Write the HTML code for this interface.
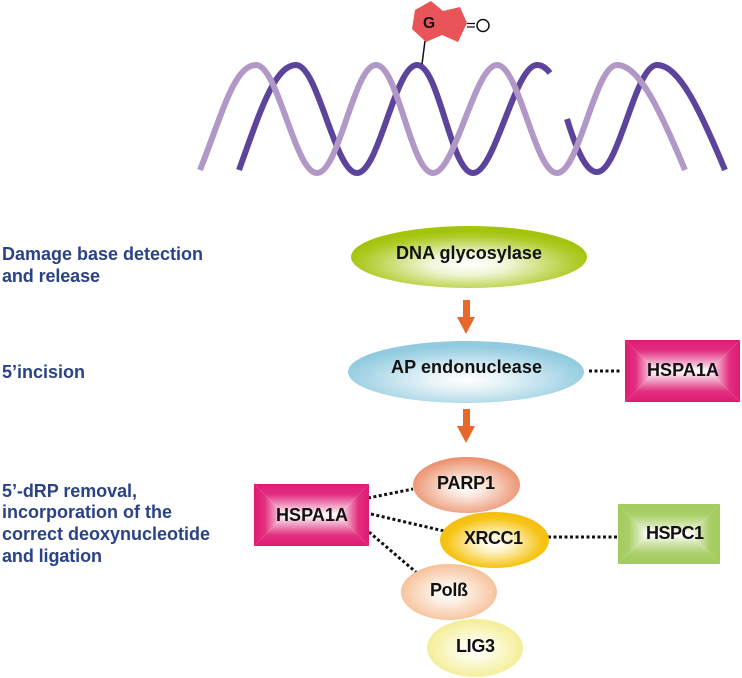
<!DOCTYPE html>
<html><head><meta charset="utf-8"><style>
html,body{margin:0;padding:0;background:#fff}svg{display:block}
text{font-family:"Liberation Sans",sans-serif;font-weight:bold}
.b{fill:#2a4286;font-size:18px}
.k{fill:#111;font-size:18px}
</style></head><body>
<svg width="742" height="678" viewBox="0 0 742 678" xmlns="http://www.w3.org/2000/svg">
<defs>
<radialGradient id="g1" cx=".5" cy=".62" r=".54"><stop offset="0" stop-color="#fff"/><stop offset=".3" stop-color="#f1f6d8"/><stop offset=".85" stop-color="#aecb28"/><stop offset="1" stop-color="#a3c40c"/></radialGradient>
<radialGradient id="g2" cx=".5" cy=".62" r=".54"><stop offset="0" stop-color="#fff"/><stop offset=".3" stop-color="#e6f3f8"/><stop offset=".85" stop-color="#a2d3e4"/><stop offset="1" stop-color="#92cbdf"/></radialGradient>
<radialGradient id="g3" cx=".5" cy=".55" r=".55"><stop offset="0" stop-color="#fff"/><stop offset=".3" stop-color="#fbe6dc"/><stop offset="1" stop-color="#ea8d68"/></radialGradient>
<radialGradient id="g4" cx=".5" cy=".55" r=".55"><stop offset="0" stop-color="#fff"/><stop offset=".3" stop-color="#fdf2c4"/><stop offset=".8" stop-color="#f6c415"/><stop offset="1" stop-color="#f4bd10"/></radialGradient>
<radialGradient id="g5" cx=".5" cy=".52" r=".55"><stop offset="0" stop-color="#fff"/><stop offset=".3" stop-color="#fdf0e6"/><stop offset="1" stop-color="#f6bd92"/></radialGradient>
<radialGradient id="g6" cx=".5" cy=".52" r=".55"><stop offset="0" stop-color="#fff"/><stop offset=".3" stop-color="#fdfce4"/><stop offset="1" stop-color="#f2ec8c"/></radialGradient>

<linearGradient id="p1t" gradientUnits="userSpaceOnUse" x1="0" y1="340" x2="0" y2="371"><stop offset="0" stop-color="#e01a74"/><stop offset=".35" stop-color="#e2307f"/><stop offset=".7" stop-color="#f0a0c4"/><stop offset="1" stop-color="#fff"/></linearGradient>
<linearGradient id="p1b" gradientUnits="userSpaceOnUse" x1="0" y1="402" x2="0" y2="371"><stop offset="0" stop-color="#e01a74"/><stop offset=".35" stop-color="#e2307f"/><stop offset=".7" stop-color="#f0a0c4"/><stop offset="1" stop-color="#fff"/></linearGradient>
<linearGradient id="p1l" gradientUnits="userSpaceOnUse" x1="625" y1="0" x2="656" y2="0"><stop offset="0" stop-color="#e01a74"/><stop offset=".35" stop-color="#e2307f"/><stop offset=".7" stop-color="#f0a0c4"/><stop offset="1" stop-color="#fff"/></linearGradient>
<linearGradient id="p1r" gradientUnits="userSpaceOnUse" x1="740" y1="0" x2="709" y2="0"><stop offset="0" stop-color="#e01a74"/><stop offset=".35" stop-color="#e2307f"/><stop offset=".7" stop-color="#f0a0c4"/><stop offset="1" stop-color="#fff"/></linearGradient>

<linearGradient id="p2t" gradientUnits="userSpaceOnUse" x1="0" y1="484" x2="0" y2="515"><stop offset="0" stop-color="#e01a74"/><stop offset=".35" stop-color="#e2307f"/><stop offset=".7" stop-color="#f0a0c4"/><stop offset="1" stop-color="#fff"/></linearGradient>
<linearGradient id="p2b" gradientUnits="userSpaceOnUse" x1="0" y1="546" x2="0" y2="515"><stop offset="0" stop-color="#e01a74"/><stop offset=".35" stop-color="#e2307f"/><stop offset=".7" stop-color="#f0a0c4"/><stop offset="1" stop-color="#fff"/></linearGradient>
<linearGradient id="p2l" gradientUnits="userSpaceOnUse" x1="254" y1="0" x2="285" y2="0"><stop offset="0" stop-color="#e01a74"/><stop offset=".35" stop-color="#e2307f"/><stop offset=".7" stop-color="#f0a0c4"/><stop offset="1" stop-color="#fff"/></linearGradient>
<linearGradient id="p2r" gradientUnits="userSpaceOnUse" x1="369" y1="0" x2="338" y2="0"><stop offset="0" stop-color="#e01a74"/><stop offset=".35" stop-color="#e2307f"/><stop offset=".7" stop-color="#f0a0c4"/><stop offset="1" stop-color="#fff"/></linearGradient>

<linearGradient id="p3t" gradientUnits="userSpaceOnUse" x1="0" y1="504" x2="0" y2="534"><stop offset="0" stop-color="#a3cb5c"/><stop offset=".35" stop-color="#a9cf68"/><stop offset=".7" stop-color="#d4e6b2"/><stop offset="1" stop-color="#fff"/></linearGradient>
<linearGradient id="p3b" gradientUnits="userSpaceOnUse" x1="0" y1="564" x2="0" y2="534"><stop offset="0" stop-color="#a3cb5c"/><stop offset=".35" stop-color="#a9cf68"/><stop offset=".7" stop-color="#d4e6b2"/><stop offset="1" stop-color="#fff"/></linearGradient>
<linearGradient id="p3l" gradientUnits="userSpaceOnUse" x1="618" y1="0" x2="648" y2="0"><stop offset="0" stop-color="#a3cb5c"/><stop offset=".35" stop-color="#a9cf68"/><stop offset=".7" stop-color="#d4e6b2"/><stop offset="1" stop-color="#fff"/></linearGradient>
<linearGradient id="p3r" gradientUnits="userSpaceOnUse" x1="720" y1="0" x2="690" y2="0"><stop offset="0" stop-color="#a3cb5c"/><stop offset=".35" stop-color="#a9cf68"/><stop offset=".7" stop-color="#d4e6b2"/><stop offset="1" stop-color="#fff"/></linearGradient>
</defs>

<!-- helix -->
<g fill="none" stroke-width="6">
<path stroke="#5c439b" d="M239 170C259 115 274 65 296 65C318 65 335 173 357 173C379 173 395 65 417 65C439 65 451 173 473 173C495 173 515 65 537 65C543 65 547 69 550 73"/>
<path stroke="#5c439b" d="M567 119C575 145 585 172 597 172C619 172 635 65 657 65C679 65 700 110 725 170"/>
<path stroke="#b298c6" d="M200 170C222 115 234 65 256 65C278 65 295 173 317 173C339 173 354 65 376 65C398 65 411 173 433 173C455 173 475 65 497 65C519 65 535 173 557 173C579 173 595 65 617 65C639 65 660 110 685 170"/>
</g>

<!-- G base -->
<line x1="425" y1="41" x2="422" y2="64" stroke="#111" stroke-width="1.5"/>
<polygon points="431,1 443,11 460,7 467,23 458,42 442,35 426,42 412,29 415,10" fill="#e85458"/>
<text x="423" y="28" fill="#111" style="font-size:15.5px">G</text>
<path d="M467 23.5H475M467 27H475" stroke="#111" stroke-width="1.3"/>
<circle cx="483" cy="25.5" r="6" fill="#fff" stroke="#111" stroke-width="1.5"/>

<!-- left labels -->
<text class="b" x="2" y="260" textLength="201">Damage base detection</text>
<text class="b" x="2" y="282" textLength="98">and release</text>
<text class="b" x="2" y="378" textLength="83">5’incision</text>
<text class="b" x="2" y="497" textLength="135">5’-dRP removal,</text>
<text class="b" x="2" y="518" textLength="170">incorporation of the</text>
<text class="b" x="2" y="540" textLength="208">correct deoxynucleotide</text>
<text class="b" x="2" y="562" textLength="100">and ligation</text>

<!-- dotted connectors -->
<g stroke="#111" stroke-width="3" stroke-dasharray="3 2.5" fill="none">
<line x1="589" y1="371" x2="621" y2="371"/>
<line x1="368" y1="498" x2="413" y2="489"/>
<line x1="371" y1="514" x2="444" y2="531"/>
<line x1="369" y1="532" x2="417" y2="573"/>
<line x1="548" y1="537" x2="618" y2="537"/>
</g>

<!-- arrows -->
<polygon points="463,300 470,300 470,317 475,317 466,334 457,317 463,317" fill="#e7682a"/>
<polygon points="463,409 470,409 470,426 475,426 466,443 457,426 463,426" fill="#e7682a"/>

<!-- ellipses -->
<ellipse cx="469" cy="257" rx="118" ry="31" fill="url(#g1)"/>
<ellipse cx="466" cy="372" rx="118" ry="31" fill="url(#g2)"/>
<ellipse cx="466.5" cy="485" rx="53.5" ry="28" fill="url(#g3)"/>
<ellipse cx="449" cy="592" rx="48" ry="28" fill="url(#g5)"/>
<ellipse cx="475" cy="648" rx="48" ry="29" fill="url(#g6)"/>
<ellipse cx="494.5" cy="540" rx="54.5" ry="28" fill="url(#g4)"/>

<!-- rects -->
<g>
<polygon points="625,340 740,340 709,371 656,371" fill="url(#p1t)"/>
<polygon points="625,402 740,402 709,371 656,371" fill="url(#p1b)"/>
<polygon points="625,340 656,371 625,402" fill="url(#p1l)"/>
<polygon points="740,340 709,371 740,402" fill="url(#p1r)"/>
</g>
<g>
<polygon points="254,484 369,484 338,515 285,515" fill="url(#p2t)"/>
<polygon points="254,546 369,546 338,515 285,515" fill="url(#p2b)"/>
<polygon points="254,484 285,515 254,546" fill="url(#p2l)"/>
<polygon points="369,484 338,515 369,546" fill="url(#p2r)"/>
</g>
<g>
<polygon points="618,504 720,504 690,534 648,534" fill="url(#p3t)"/>
<polygon points="618,564 720,564 690,534 648,534" fill="url(#p3b)"/>
<polygon points="618,504 648,534 618,564" fill="url(#p3l)"/>
<polygon points="720,504 690,534 720,564" fill="url(#p3r)"/>
</g>

<!-- node labels -->
<text class="k" x="396" y="259" textLength="146">DNA glycosylase</text>
<text class="k" x="391" y="373" textLength="151">AP endonuclease</text>
<text class="k" x="647" y="376" textLength="72">HSPA1A</text>
<text class="k" x="437" y="489" textLength="58">PARP1</text>
<text class="k" x="276" y="521" textLength="72">HSPA1A</text>
<text class="k" x="464" y="544" textLength="59">XRCC1</text>
<text class="k" x="646" y="539" textLength="58">HSPC1</text>
<text class="k" x="430" y="596" textLength="38">Polß</text>
<text class="k" x="456" y="652" textLength="39">LIG3</text>
</svg>
</body></html>
